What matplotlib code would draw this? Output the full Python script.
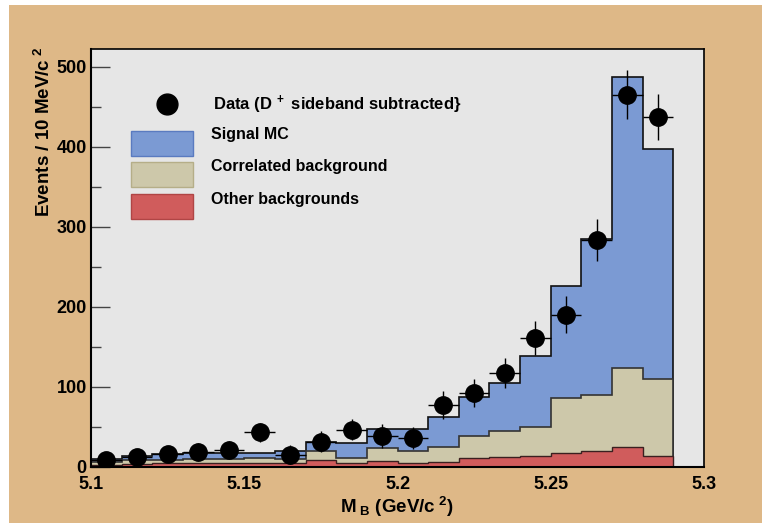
import numpy as np
import matplotlib
matplotlib.use("Agg")
import matplotlib.pyplot as plt
from matplotlib.patches import Rectangle
from matplotlib.lines import Line2D

# ---- data ----
bin_edges = np.round(np.arange(5.10, 5.3001, 0.01), 3)           # 20 bins of 10 MeV
other_bkg = [2.5, 3, 4, 5, 4, 4.5, 5, 8, 5, 7, 5, 6, 11, 12, 13, 17, 20, 24, 13, 0]
corr_bkg = [3.5, 5, 4, 4, 5, 6, 5, 11, 6, 16, 15, 19, 27, 32, 37, 69, 70, 99, 97, 0]
signal_mc = [3, 5, 8, 8, 8, 6.5, 10, 12, 19, 24, 27, 37, 49, 60, 88, 140, 195, 364, 287, 0]

data_x = [5.105, 5.115, 5.125, 5.135, 5.145, 5.155, 5.165, 5.175, 5.185, 5.195,
          5.205, 5.215, 5.225, 5.235, 5.245, 5.255, 5.265, 5.275, 5.285]
data_y = [8, 12, 16, 18, 21, 43, 15, 31, 46, 38, 36, 77, 92, 117, 161, 190, 283, 465, 437]
data_err = [9, 10, 10, 11, 11, 12, 12, 13, 13, 15, 14, 17, 17, 19, 21, 23, 26, 31, 29]
data_xerr = 0.005

x_ticks = [5.1, 5.15, 5.2, 5.25, 5.3]
x_tick_labels = ["5.1", "5.15", "5.2", "5.25", "5.3"]
y_ticks = [0, 100, 200, 300, 400, 500]

W, H = 762, 523
plt.rcParams['font.family'] = ['Liberation Sans', 'DejaVu Sans']
plt.rcParams['font.weight'] = 'bold'
plt.rcParams['mathtext.fontset'] = 'custom'
plt.rcParams['mathtext.rm'] = 'Liberation Sans:bold'
plt.rcParams['mathtext.it'] = 'Liberation Sans:bold'
plt.rcParams['mathtext.bf'] = 'Liberation Sans:bold'

fig = plt.figure(figsize=(W / 100, H / 100), dpi=100)
fig.patch.set_facecolor('white')

def px(x, y):
    return (x / W, 1 - y / H)

# tan canvas with thin white margin top/left
fig.patches.append(Rectangle(px(9, H), 1 - 9 / W, 1 - 5 / H, transform=fig.transFigure,
                             facecolor='#DEB887', edgecolor='none', zorder=-10))

l, r, b, t = 91, 704, 466.7, 49.3
ax = fig.add_axes([l / W, 1 - b / H, (r - l) / W, (b - t) / H])
ax.set_facecolor('#E6E6E6')

other = np.array(other_bkg)
corr_top = other + np.array(corr_bkg)
total = corr_top + np.array(signal_mc)

ax.stairs(total, bin_edges, baseline=0, fill=True, facecolor='#7B9AD3',
          edgecolor='#111111', linewidth=1.2, zorder=2)
ax.stairs(corr_top, bin_edges, baseline=0, fill=True, facecolor='#CDC8AA',
          edgecolor='#333333', linewidth=1.2, zorder=3)
ax.stairs(other, bin_edges, baseline=0, fill=True, facecolor='#D05C5C',
          edgecolor='#3a2020', linewidth=1.0, zorder=4)

ax.errorbar(data_x, data_y, yerr=data_err, xerr=data_xerr, fmt='o', color='black',
            markersize=12.5, elinewidth=1.0, capsize=0, zorder=6)

ax.set_xlim(5.1, 5.3)
ax.set_ylim(0, 521.7)
ax.set_xticks(x_ticks)
ax.set_xticklabels(x_tick_labels)
ax.set_yticks(y_ticks)
ax.set_yticks(np.arange(50, 521, 100), minor=True)
ax.tick_params(axis='x', length=0, pad=7, labelsize=13)
ax.tick_params(axis='y', which='major', direction='in', length=13.5, width=1.0,
               color='#444444', pad=3, labelsize=13)
ax.tick_params(axis='y', which='minor', direction='in', length=7, width=1.0,
               color='#444444')
for lab in ax.get_xticklabels() + ax.get_yticklabels():
    lab.set_fontweight('bold')
for s in ['left', 'bottom']:
    ax.spines[s].set_linewidth(1.5)
    ax.spines[s].set_zorder(10)
for s in ['top', 'right']:
    ax.spines[s].set_linewidth(1.2)
    ax.spines[s].set_zorder(10)

# axis labels
fig.text(*px(397, 507), r"M$_{\mathregular{\ B}}$ (GeV/c$^{\mathregular{\ 2}}$)",
         ha='center', va='center', fontsize=13.5, fontweight='bold')
fig.text(*px(44, 47), r"Events / 10 MeV/c$^{\mathregular{\ 2}}$", rotation=90,
         ha='center', va='top', fontsize=13.5, fontweight='bold')

# legend (drawn manually)
fig.lines.append(Line2D([167 / W], [1 - 104 / H], marker='o', markersize=15,
                        color='black', transform=fig.transFigure, zorder=20))
fig.text(*px(213, 105), r"Data (D$^{\mathregular{\ +}}$ sideband subtracted}",
         ha='left', va='center', fontsize=12, fontweight='bold', zorder=20)
leg = [("Signal MC", '#7B9AD3', '#5A7BC0', 131, 135),
       ("Correlated background", '#CDC8AA', '#B5AE88', 162, 167),
       ("Other backgrounds", '#D05C5C', '#B04545', 194, 200)]
for text, fc, ec, ytop, ytxt in leg:
    fig.patches.append(Rectangle(px(131, ytop + 25), 62 / W, 25 / H,
                                 transform=fig.transFigure, facecolor=fc,
                                 edgecolor=ec, linewidth=1.0, zorder=20))
    fig.text(*px(211, ytxt), text, ha='left', va='center', fontsize=11.5,
             fontweight='bold', zorder=20)

fig.savefig("out.png", dpi=100)
